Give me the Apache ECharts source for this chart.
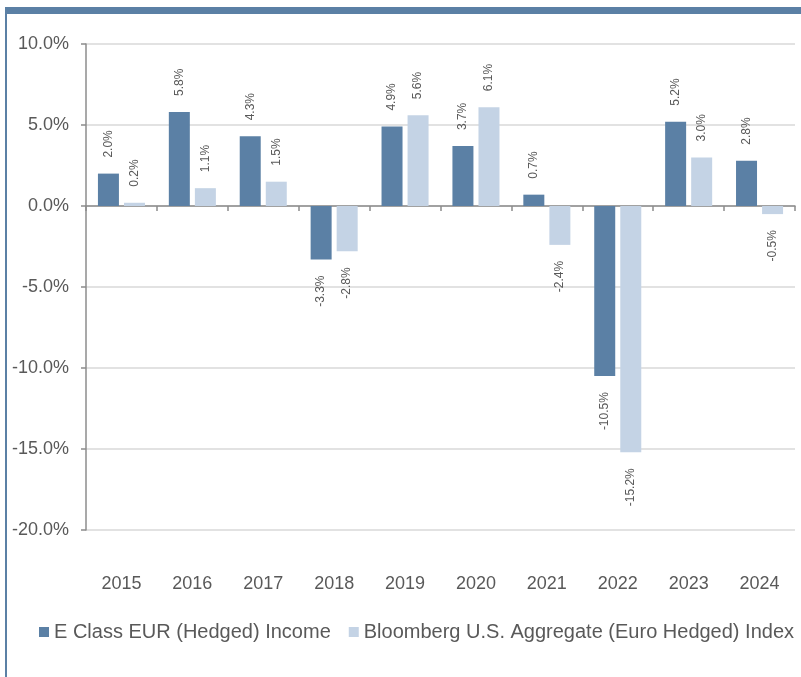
<!DOCTYPE html>
<html>
<head>
<meta charset="utf-8">
<script src="https://cdn.jsdelivr.net/npm/echarts@6/dist/echarts.min.js"></script>
<style>
  html, body { margin: 0; padding: 0; background: #fff; }
  #chart { width: 801px; height: 677px; }
</style>
</head>
<body>
<div id="chart"></div>
<script>
const years = ["2015", "2016", "2017", "2018", "2019", "2020", "2021", "2022", "2023", "2024"];
const fundReturns = [2.0, 5.8, 4.3, -3.3, 4.9, 3.7, 0.7, -10.5, 5.2, 2.8];
const indexReturns = [0.2, 1.1, 1.5, -2.8, 5.6, 6.1, -2.4, -15.2, 3.0, -0.5];
const fundName = "E Class EUR (Hedged) Income";
const indexName = "Bloomberg U.S. Aggregate (Euro Hedged) Index";

const dark = "#5b80a5";
const light = "#c4d3e5";
const textColor = "#595959";

// labels sit outside the bar end, rotated to read bottom-to-top
const withLabels = (arr) =>
  arr.map((v) => ({
    value: v,
    label: v >= 0
      ? { position: "top", align: "left" }
      : { position: "bottom", align: "right" },
  }));

const chart = echarts.init(document.getElementById("chart"));

chart.setOption({
  animation: false,
  grid: { left: 86, right: 6, top: 44, bottom: 147 },
  legend: {
    left: 39,
    right: 0,
    top: 622,
    padding: 0,
    itemWidth: 10,
    itemHeight: 10,
    itemGap: 18,
    icon: "rect",
    textStyle: { color: textColor, fontSize: 20, fontFamily: "Liberation Sans, Arial" },
    data: [fundName, indexName],
  },
  xAxis: [
    {
      type: "category",
      data: years,
      axisLine: { onZero: true, lineStyle: { color: "#8c8c8c", width: 1.5 } },
      axisTick: { show: true, length: 5, lineStyle: { color: "#8c8c8c", width: 1.5 } },
      axisLabel: { show: false },
    },
    {
      type: "category",
      data: years,
      position: "bottom",
      axisLine: { show: false },
      axisTick: { show: false },
      axisLabel: {
        color: textColor,
        fontSize: 18,
        margin: 45,
        fontFamily: "Liberation Sans, Arial",
      },
    },
  ],
  yAxis: {
    type: "value",
    min: -20,
    max: 10,
    interval: 5,
    axisLine: { show: true, onZero: false, lineStyle: { color: "#8c8c8c", width: 1.5 } },
    axisTick: { show: true, length: 5, lineStyle: { color: "#8c8c8c", width: 1.5 } },
    splitLine: { lineStyle: { color: "#d9d9d9", width: 1.5 } },
    axisLabel: {
      color: textColor,
      fontSize: 18,
      margin: 17,
      fontFamily: "Liberation Sans, Arial",
      formatter: (v) => v.toFixed(1) + "%",
    },
  },
  series: [
    {
      name: fundName,
      type: "bar",
      xAxisIndex: 0,
      barWidth: 21,
      barGap: "24%",
      itemStyle: { color: dark },
      label: {
        show: true,
        rotate: 90,
        distance: 16,
        verticalAlign: "middle",
        color: textColor,
        fontSize: 12,
        fontFamily: "Liberation Sans, Arial",
        formatter: (p) => p.value.toFixed(1) + "%",
      },
      data: withLabels(fundReturns),
    },
    {
      name: indexName,
      type: "bar",
      xAxisIndex: 0,
      barWidth: 21,
      barGap: "24%",
      itemStyle: { color: light },
      label: {
        show: true,
        rotate: 90,
        distance: 16,
        verticalAlign: "middle",
        color: textColor,
        fontSize: 12,
        fontFamily: "Liberation Sans, Arial",
        formatter: (p) => p.value.toFixed(1) + "%",
      },
      data: withLabels(indexReturns),
    },
  ],
  graphic: [
    { type: "rect", shape: { x: 5, y: 7, width: 796, height: 7 }, style: { fill: dark } },
    { type: "rect", shape: { x: 5, y: 7, width: 2, height: 670 }, style: { fill: dark } },
  ],
});
</script>
</body>
</html>
